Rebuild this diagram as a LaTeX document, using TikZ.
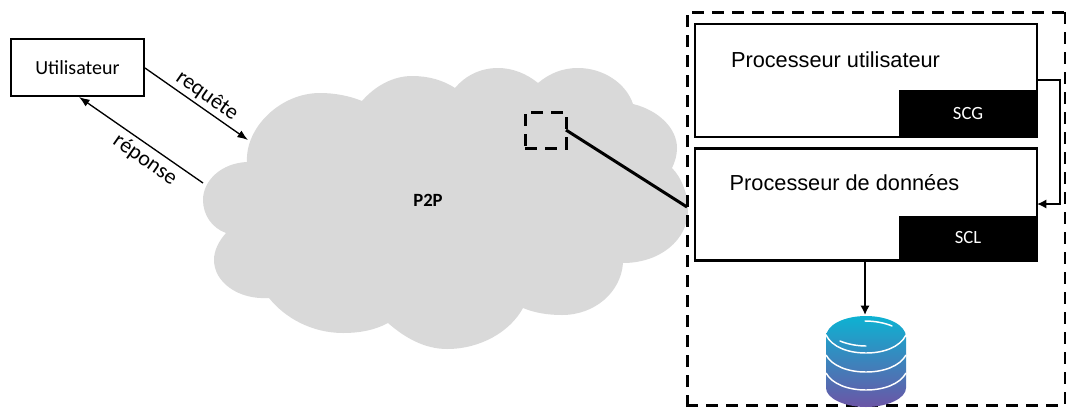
\documentclass[tikz,border=0pt]{standalone}
\usepackage{fontspec}
\setmainfont{Carlito}
\newfontfamily\arialfont{Liberation Sans}
\usepackage{tikz}
\usetikzlibrary{arrows, arrows.meta}
\definecolor{cloudgray}{HTML}{D9D9D9}
\definecolor{dbtop}{HTML}{0DB2D2}
\definecolor{dbbottom}{HTML}{6B55A6}

\begin{document}
\begin{tikzpicture}[x=.75pt,y=-.75pt]
\tikzstyle{boxnode}=[rectangle, draw, fill=white, line width=1.9pt, minimum width=256.5pt, inner sep=0pt, outer sep=0pt]
\tikzstyle{blackbox}=[rectangle, fill=black, text=white, minimum width=103.5pt, inner sep=0pt, outer sep=0pt, font=\fontsize{14}{16}\selectfont]
\tikzstyle{proctext}=[inner sep=0pt, font=\arialfont\fontsize{16.3}{19}\selectfont]
\tikzstyle{arrowtext}=[inner sep=0pt, rotate=-35, font=\fontsize{16.5}{19}\selectfont]
\tikzstyle{dashedline}=[line width=2.25pt, dash pattern=on 9pt off 6pt]
\useasboundingbox (0,0) rectangle (1066,407);

\path[fill=cloudgray] (247,162)
 .. controls (245,128) and (280,93) .. (320,93)
 .. controls (335,93) and (350,96) .. (362,101)
 .. controls (375,86) and (393,76) .. (412,76)
 .. controls (428,76) and (443,80) .. (455,88)
 .. controls (465,76) and (480,68) .. (498,68)
 .. controls (513,68) and (527,74) .. (538,83)
 .. controls (550,73) and (563,68) .. (578,68)
 .. controls (603,68) and (626,83) .. (633,104)
 .. controls (658,110) and (677,128) .. (677,148)
 .. controls (677,155) and (675,162) .. (672,168)
 .. controls (682,178) and (688,195) .. (688,210)
 .. controls (688,240) and (660,263) .. (623,263)
 .. controls (621,292) and (595,315) .. (562,315)
 .. controls (548,315) and (535,313) .. (523,308)
 .. controls (510,332) and (480,349) .. (447,349)
 .. controls (425,349) and (405,338) .. (388,323)
 .. controls (375,330) and (360,333) .. (343,333)
 .. controls (312,333) and (285,318) .. (269,298)
 .. controls (238,300) and (214,282) .. (214,260)
 .. controls (214,250) and (219,241) .. (226,233)
 .. controls (212,228) and (203,215) .. (203,200)
 .. controls (203,180) and (222,163) .. (247,162) -- cycle;

\node[font=\bfseries\fontsize{14}{16}\selectfont] (ptop) at (428,200) {P2P};
\node[rectangle, draw, line width=1.1pt, minimum width=99.75pt, minimum height=42.75pt, inner sep=0pt, outer sep=0pt, font=\fontsize{15}{18}\selectfont] (util) at (77.5,67.5) {Utilisateur};
\coordinate (cloudin) at (248,140);
\coordinate (cloudout) at (203,183);
\coordinate (utilout) at (145,68);
\coordinate (utilin) at (79,97);
\draw[-{Latex[length=8pt,width=6pt]}, line width=1pt] (utilout) -- (cloudin);
\draw[-{Latex[length=8pt,width=6pt]}, line width=1pt] (cloudout) -- (utilin);
\node[arrowtext] (req) at (207,96) {requête};
\node[arrowtext] (rep) at (145,160) {réponse};

\draw[dashedline] (687,407) -- (687,12) -- (1066,12);
\draw[dashedline] (1065,12) -- (1065,405) -- (687,405);
\node[dashedline, draw, minimum width=30.75pt, minimum height=27pt, inner sep=0pt, outer sep=0pt] (peer) at (545.5,130) {};
\coordinate (edgept) at (687,207);
\draw[line width=2.25pt] (peer.east) -- (edgept);

\node[boxnode, minimum height=84.75pt] (procu) at (866,80.5) {};
\node[boxnode, minimum height=84pt] (procd) at (866,204.5) {};
\node[blackbox, minimum height=35.25pt] (scg) at (968,113.5) {SCG};
\node[blackbox, minimum height=33.75pt] (scl) at (968,238) {SCL};
\node[proctext] (utext) at (835.5,60) {Processeur utilisateur};
\node[proctext] (dtext) at (844.5,183) {Processeur de données};

\coordinate (elbowa) at (1060,80);
\coordinate (elbowb) at (1060,204);
\draw[-{Latex[length=7pt,width=7pt]}, line width=1.9pt] (procu.east |- elbowa) -- (elbowa) -- (elbowb) -- (procd.east |- elbowb);

\coordinate (dbtip) at (865,315);
\draw[-{Latex[length=7pt,width=7pt]}, line width=1.9pt] (procd.south -| dbtip) -- (dbtip);

\path[top color=dbtop, bottom color=dbbottom] (826,337)
 .. controls (826,325) and (844,316) .. (866,316)
 .. controls (888,316) and (906,325) .. (906,337)
 -- (906,388)
 .. controls (906,398) and (888,407) .. (866,407)
 .. controls (844,407) and (826,398) .. (826,388) -- cycle;
\draw[white, line width=1.1pt] (826,335) .. controls (832,347) and (848,353) .. (866,353) .. controls (884,353) and (900,347) .. (906,335);
\draw[white, line width=1.1pt] (826,355) .. controls (832,366) and (848,372) .. (866,372) .. controls (884,372) and (900,366) .. (906,355);
\draw[white, line width=1.1pt] (826,373) .. controls (832,384) and (848,390) .. (866,390) .. controls (884,390) and (900,384) .. (906,373);
\draw[white, line width=1.1pt, line cap=round] (865,321) .. controls (875,321) and (885,323) .. (892,326);
\draw[white, line width=1.1pt, line cap=round] (840,341) .. controls (847,344) and (857,346) .. (866,346);
\end{tikzpicture}
\end{document}
